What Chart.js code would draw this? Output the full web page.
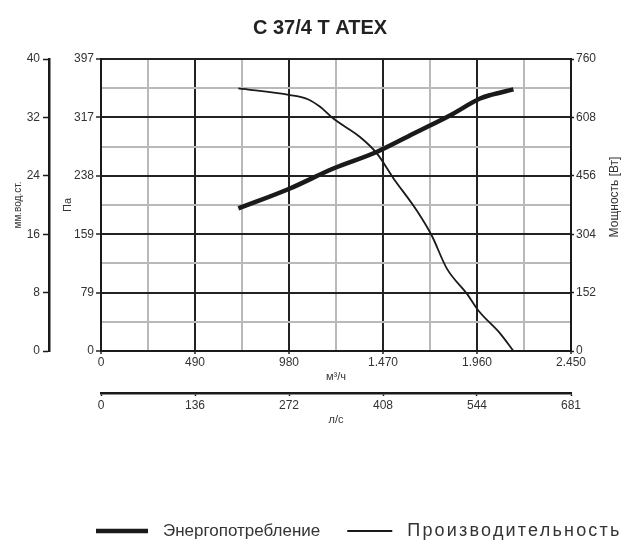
<!DOCTYPE html>
<html>
<head>
<meta charset="utf-8">
<script src="https://cdn.jsdelivr.net/npm/chart.js@4"></script>
<style>
  html, body { margin: 0; padding: 0; background: #fff; }
  #wrap { width: 632px; height: 543px; }
</style>
</head>
<body>
<div id="wrap"><canvas id="myChart"></canvas></div>
<script>
// pressure curve (Pa) vs flow (m3/h)
const pressFlow = [716, 985, 1081, 1142, 1211, 1350, 1437, 1524, 1646, 1724, 1803, 1907, 1967, 2080, 2150];
const pressPa = [357, 348, 342, 332, 316, 291, 269, 235, 191, 157, 112, 78, 55, 24, 0];
// power consumption (W) vs flow (m3/h)
const powerFlow = [716, 985, 1211, 1437, 1646, 1819, 1976, 2028, 2150];
const powerW = [371, 423, 475, 518, 570, 613, 657, 666, 681];

const flowLabels = ['0', '490', '980', '1.470', '1.960', '2.450'];
const lsLabels = ['0', '136', '272', '408', '544', '681'];
const paLabels = ['0', '79', '159', '238', '317', '397'];
const mmLabels = ['0', '8', '16', '24', '32', '40'];
const wLabels = ['0', '152', '304', '456', '608', '760'];

const FONT = '"Liberation Sans", Arial, sans-serif';
const INK = '#1a1a1a';
const num = s => Number(s.replace('.', ''));
const axisMax = arr => num(arr[arr.length - 1]);

// major + minor ticks: n steps between 0 and max
const makeTicks = (max, n) => scale => {
  scale.ticks = [];
  for (let i = 0; i <= n; i++) scale.ticks.push({ value: max * i / n });
};
const label = (labels, every) => (v, i) => (i % every ? '' : labels[i / every]);
const gridMajorMinor = {
  color: c => (c.index % 2 ? '#b9b9b9' : '#222'),
  lineWidth: 2,
  tickColor: c => (c.index % 2 ? 'rgba(0,0,0,0)' : '#222'),
  tickWidth: 1.5
};
const tickFont = { family: FONT, size: 12 };

const ctx = document.getElementById('myChart');

// legend drawn by hand, like the print original (second label is set wider)
const legendText = [{ size: 17, spacing: 0, len: 52 }, { size: 18, spacing: 2.2, len: 45 }];
const lineLegend = {
  id: 'lineLegend',
  afterDraw(chart) {
    const c = chart.ctx;
    const y = 531;
    let x = 96;
    c.save();
    c.fillStyle = '#333';
    c.textBaseline = 'middle';
    chart.data.datasets.forEach((ds, i) => {
      const t = legendText[i];
      c.strokeStyle = ds.borderColor;
      c.lineWidth = ds.borderWidth;
      c.beginPath();
      c.moveTo(x, y);
      c.lineTo(x + t.len, y);
      c.stroke();
      x += t.len + 15;
      c.font = t.size + 'px ' + FONT;
      c.letterSpacing = t.spacing + 'px';
      c.fillText(ds.label, x, y);
      x += c.measureText(ds.label).width + 27;
    });
    c.restore();
  }
};

// right axis title reads bottom-to-top
const rightTitle = {
  id: 'rightTitle',
  afterDraw(chart) {
    const c = chart.ctx;
    const a = chart.chartArea;
    c.save();
    c.translate(615, (a.top + a.bottom) / 2 - 8);
    c.rotate(-Math.PI / 2);
    c.font = '12px ' + FONT;
    c.fillStyle = '#333';
    c.textAlign = 'center';
    c.textBaseline = 'middle';
    c.fillText('Мощность [Вт]', 0, 0);
    c.restore();
  }
};

new Chart(ctx, {
  type: 'line',
  data: {
    datasets: [{
      label: 'Энергопотребление',
      data: powerFlow.map((x, i) => ({ x, y: powerW[i] })),
      yAxisID: 'yW',
      borderColor: INK,
      borderWidth: 4.5,
      pointRadius: 0,
      cubicInterpolationMode: 'monotone'
    }, {
      label: 'Производительность',
      data: pressFlow.map((x, i) => ({ x, y: pressPa[i] })),
      yAxisID: 'yPa',
      borderColor: INK,
      borderWidth: 1.8,
      pointRadius: 0,
      cubicInterpolationMode: 'monotone'
    }]
  },
  options: {
    responsive: true,
    maintainAspectRatio: false,
    animation: false,
    layout: { padding: { left: 8, right: 0, top: 0, bottom: 114 } },
    plugins: {
      legend: { display: false },
      tooltip: { enabled: false },
      title: {
        display: true,
        text: 'C 37/4 T ATEX',
        color: '#222',
        font: { family: FONT, size: 20, weight: 'bold' },
        padding: { top: 16, bottom: 19 }
      }
    },
    scales: {
      x: {
        type: 'linear',
        position: 'bottom',
        weight: 0,
        min: 0,
        max: axisMax(flowLabels),
        afterBuildTicks: makeTicks(axisMax(flowLabels), 10),
        afterFit: s => { s.height = 42; },
        grid: { ...gridMajorMinor, tickLength: 3 },
        border: { color: INK, width: 2 },
        ticks: { autoSkip: false, maxRotation: 0, padding: 1, color: '#333', font: tickFont, callback: label(flowLabels, 2) },
        title: { display: true, text: 'м³/ч', color: '#333', font: { family: FONT, size: 11 }, padding: { top: 0, bottom: 9 } }
      },
      ls: {
        type: 'linear',
        position: 'bottom',
        weight: 1,
        min: 0,
        max: axisMax(lsLabels),
        afterBuildTicks: makeTicks(axisMax(lsLabels), 5),
        afterFit: s => { s.height = 36; },
        grid: { drawOnChartArea: false, tickLength: 3, tickColor: INK, tickWidth: 1.5 },
        border: { color: INK, width: 2.5 },
        ticks: { autoSkip: false, maxRotation: 0, padding: 2, color: '#333', font: tickFont, callback: label(lsLabels, 1) },
        title: { display: true, text: 'л/с', color: '#333', font: { family: FONT, size: 11 }, padding: { top: 0, bottom: 2 } }
      },
      yPa: {
        type: 'linear',
        position: 'left',
        weight: 0,
        min: 0,
        max: axisMax(paLabels),
        afterBuildTicks: makeTicks(axisMax(paLabels), 10),
        afterFit: s => { s.width = 52; },
        grid: { ...gridMajorMinor, tickLength: 5 },
        border: { color: INK, width: 2 },
        ticks: { autoSkip: false, padding: 2, color: '#333', font: tickFont, callback: label(paLabels, 2) },
        title: { display: true, text: 'Па', color: '#333', font: { family: FONT, size: 11 }, padding: { top: 12, bottom: 0 } }
      },
      mm: {
        type: 'linear',
        position: 'left',
        weight: 1,
        min: 0,
        max: axisMax(mmLabels),
        afterBuildTicks: makeTicks(axisMax(mmLabels), 5),
        afterFit: s => { s.width = 41; },
        grid: { drawOnChartArea: false, tickLength: 6, tickColor: INK, tickWidth: 1.5 },
        border: { color: INK, width: 2.5 },
        ticks: { autoSkip: false, padding: 3, color: '#333', font: tickFont, callback: label(mmLabels, 1) },
        title: { display: true, text: 'мм.вод.ст.', color: '#333', font: { family: FONT, size: 10 }, padding: { top: 4, bottom: 0 } }
      },
      yW: {
        type: 'linear',
        position: 'right',
        min: 0,
        max: axisMax(wLabels),
        afterBuildTicks: makeTicks(axisMax(wLabels), 5),
        afterFit: s => { s.width = 61; },
        grid: { drawOnChartArea: false, tickLength: 3, tickColor: INK, tickWidth: 1.5 },
        border: { color: INK, width: 2 },
        ticks: { autoSkip: false, padding: 2, color: '#333', font: tickFont, callback: label(wLabels, 1) }
      }
    }
  },
  plugins: [lineLegend, rightTitle]
});
</script>
</body>
</html>
